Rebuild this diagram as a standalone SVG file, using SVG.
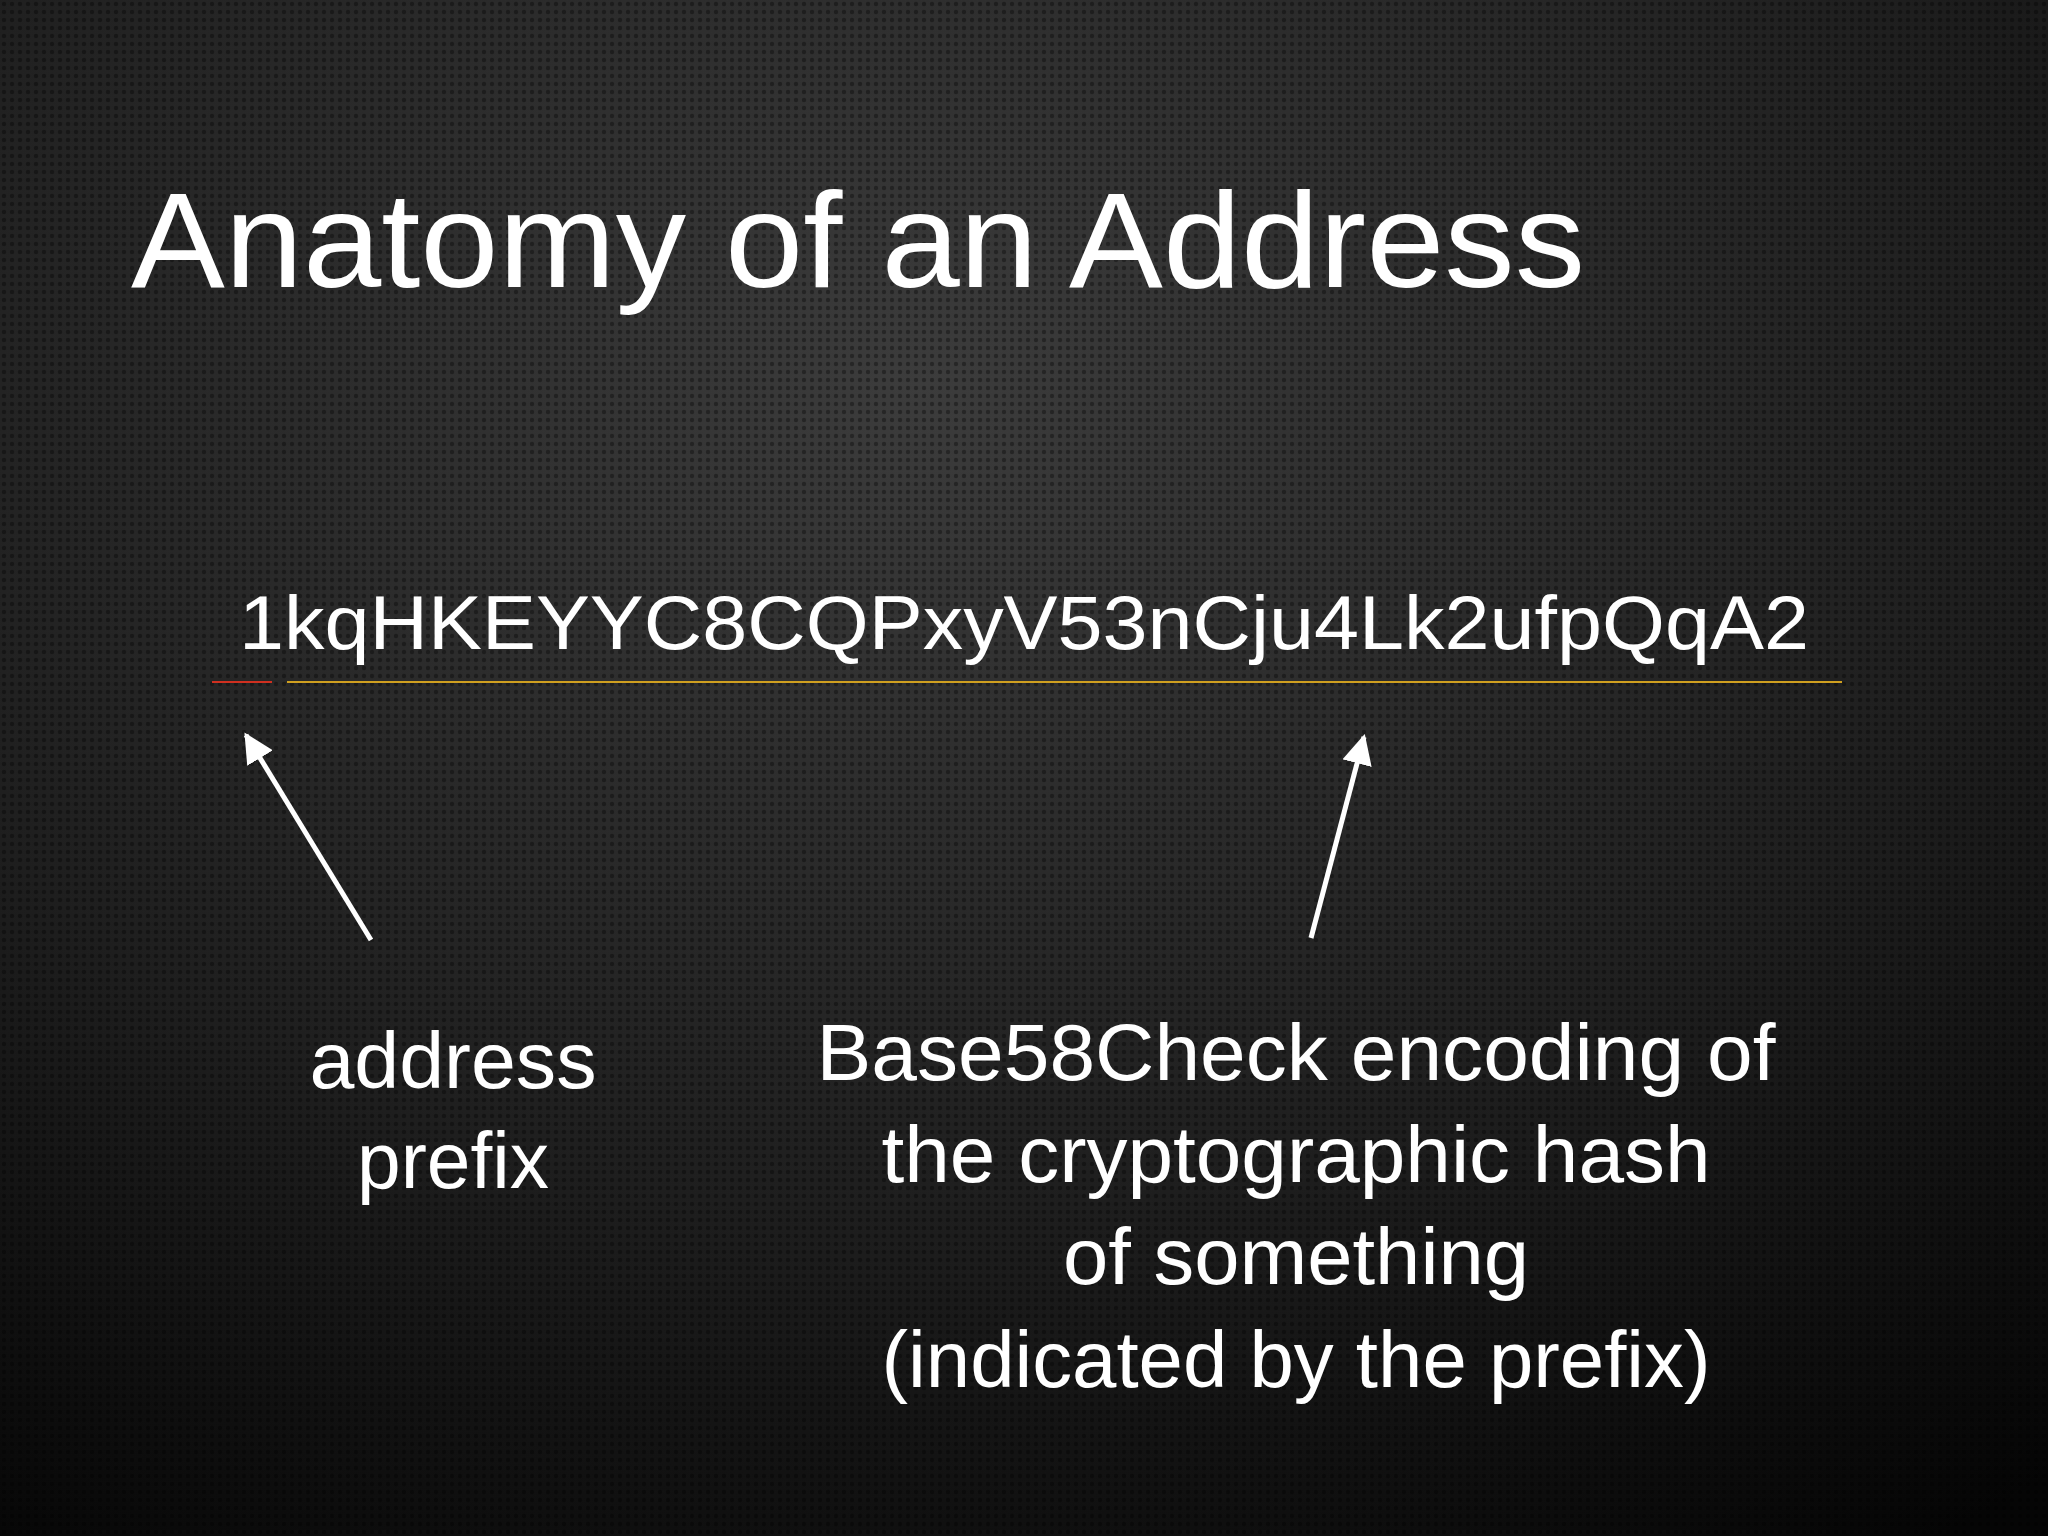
<svg xmlns="http://www.w3.org/2000/svg" width="2048" height="1536" viewBox="0 0 2048 1536">
<defs>
<radialGradient id="bg" cx="0.45" cy="0.25" r="0.9">
<stop offset="0" stop-color="#3c3c3c"/>
<stop offset="0.6" stop-color="#1e1e1e"/>
<stop offset="1" stop-color="#050505"/>
</radialGradient>
<pattern id="dots" width="8" height="8" patternUnits="userSpaceOnUse">
<circle cx="4" cy="4" r="2.2" fill="#000" fill-opacity="0.35"/>
</pattern>
<marker id="ah" viewBox="0 0 10 10" refX="9" refY="5" markerWidth="6" markerHeight="6" orient="auto" markerUnits="strokeWidth">
<path d="M0,0 L10,5 L0,10 z" fill="#fff"/>
</marker>
<style>
text{font-family:"Liberation Sans",Arial,sans-serif;fill:#fff;}
.lbl{font-size:80px;text-anchor:middle;}
</style>
</defs>
<rect width="2048" height="1536" fill="url(#bg)"/>
<rect width="2048" height="1536" fill="url(#dots)"/>
<g id="title"><text x="131" y="287" font-size="136" textLength="1454" lengthAdjust="spacingAndGlyphs">Anatomy of an Address</text></g>
<g id="address"><text x="239" y="649" font-size="76" textLength="1570" lengthAdjust="spacingAndGlyphs">1kqHKEYYC8CQPxyV53nCju4Lk2ufpQqA2</text></g>
<g id="underlines">
<line x1="212" y1="682" x2="272" y2="682" stroke="#d03020" stroke-width="2"/>
<line x1="287" y1="682" x2="1842" y2="682" stroke="#d0a020" stroke-width="2"/>
</g>
<g id="connectors" stroke="#fff" stroke-width="5" fill="none">
<line x1="371" y1="940" x2="246" y2="735" marker-end="url(#ah)"/>
<line x1="1311" y1="938" x2="1364" y2="737" marker-end="url(#ah)"/>
</g>
<g id="prefix-label"><text class="lbl" x="453" y="1088" textLength="287" lengthAdjust="spacingAndGlyphs">address</text><text class="lbl" x="453" y="1188" textLength="192" lengthAdjust="spacingAndGlyphs">prefix</text></g>
<g id="hash-label">
<text class="lbl" x="1296" y="1080" textLength="959" lengthAdjust="spacingAndGlyphs">Base58Check encoding of</text>
<text class="lbl" x="1296" y="1182" textLength="829" lengthAdjust="spacingAndGlyphs">the cryptographic hash</text>
<text class="lbl" x="1296" y="1284" textLength="466" lengthAdjust="spacingAndGlyphs">of something</text>
<text class="lbl" x="1296" y="1387" textLength="829" lengthAdjust="spacingAndGlyphs">(indicated by the prefix)</text>
</g>
</svg>
